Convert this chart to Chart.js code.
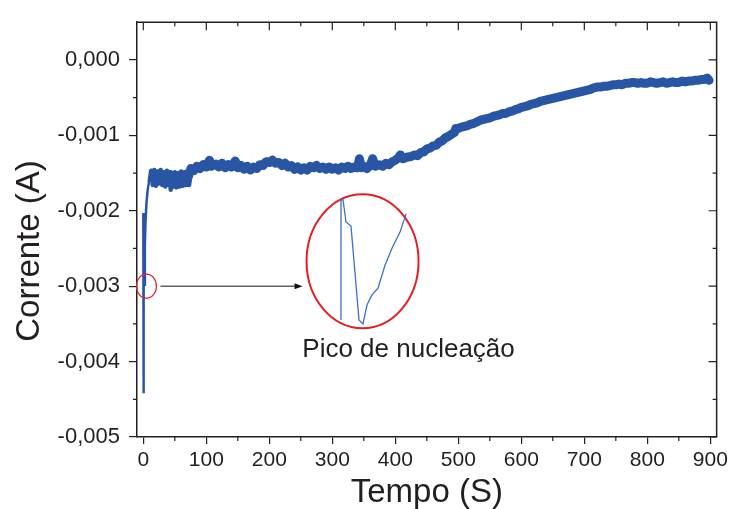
<!DOCTYPE html>
<html>
<head>
<meta charset="utf-8">
<script src="https://cdn.jsdelivr.net/npm/chart.js@4.4.1/dist/chart.umd.min.js"></script>
<style>
  html, body { margin: 0; padding: 0; background: #fff; }
  canvas { display: block; }
  #wrap { position: relative; width: 732px; height: 509px; }
  #inset { position: absolute; left: 335px; top: 195px; width: 75px; height: 135px; }
</style>
</head>
<body>
<div id="wrap">
  <canvas id="mainChart" width="732" height="509"></canvas>
  <div id="inset"><canvas id="insetChart" width="75" height="135"></canvas></div>
</div>
<script>
// Initial transient (nucleation spike), time in s, current in mA
const transientTime = [0, 0.3, 0.8, 1.5, 2.5, 3.5, 5, 7, 9, 10];
const transientCurrent = [-2.03, -4.42, -2.05, -2.98, -2.45, -2.15, -1.9, -1.72, -1.62, -1.6];

// Noisy early plateau, time in s, current in mA
const plateauTime = [
  10, 12.5, 15, 17.5, 20, 22.5, 25, 27.5, 30, 32.5, 35, 37.5, 40, 42.5, 43.5, 45, 47.5, 50, 52.5, 55,
  57.5, 60, 62.5, 65, 67.5, 70, 72.5, 74.5, 75.5
];
const plateauCurrent = [
  -1.62, -1.47, -1.66, -1.46, -1.67, -1.48, -1.64, -1.46, -1.66, -1.49, -1.68, -1.47, -1.66, -1.49, -1.72, -1.50, -1.68, -1.49, -1.69, -1.50,
  -1.68, -1.48, -1.67, -1.49, -1.66, -1.47, -1.66, -1.55, -1.44
];

// Rest of the chronoamperometry curve, time in s, current in mA
const timeS = [
  75.5, 80, 85, 90, 95, 100, 105, 108, 115, 120, 125, 130, 135, 140, 146, 150, 155, 160, 165, 170, 175,
  180, 185, 190, 195, 200, 205, 210, 215, 220, 225, 230, 235, 240, 245, 250, 255, 260, 265, 270, 275,
  280, 285, 290, 295, 300, 305, 310, 315, 320, 325, 330, 335, 340, 343, 346, 350, 355, 360, 364, 368,
  375, 380, 385, 390, 395, 400, 405, 408, 412, 418, 425, 430, 435, 440, 445, 450, 455, 460, 465, 470,
  475, 480, 485, 490, 494, 496, 500, 505, 510, 515, 520, 525, 530, 535, 540, 545, 550, 555, 560, 565,
  570, 575, 580, 585, 590, 595, 600, 605, 610, 615, 620, 625, 630, 635, 640, 645, 650, 655, 660, 665,
  670, 675, 680, 685, 690, 695, 700, 705, 710, 715, 720, 725, 730, 735, 740, 745, 750, 755, 760, 765,
  770, 775, 780, 785, 790, 795, 800, 805, 810, 815, 820, 825, 830, 835, 840, 845, 850, 855, 860, 865,
  870, 875, 880, 885, 890, 895, 898
];
const currentMilliAmp = [
  -1.44, -1.47, -1.41, -1.44, -1.39, -1.42, -1.33, -1.41, -1.38, -1.42, -1.37, -1.43, -1.39, -1.42, -1.34, -1.43, -1.40, -1.45, -1.41, -1.46, -1.42,
  -1.44, -1.39, -1.40, -1.35, -1.36, -1.33, -1.37, -1.36, -1.40, -1.37, -1.42, -1.40, -1.45, -1.42, -1.46, -1.43, -1.46, -1.41, -1.43, -1.40,
  -1.44, -1.42, -1.45, -1.42, -1.45, -1.43, -1.46, -1.42, -1.44, -1.41, -1.44, -1.42, -1.43, -1.31, -1.43, -1.41, -1.44, -1.40, -1.31, -1.41,
  -1.39, -1.41, -1.37, -1.39, -1.35, -1.33, -1.30, -1.26, -1.31, -1.29, -1.28, -1.26, -1.27, -1.23, -1.22, -1.18, -1.17, -1.14, -1.13, -1.09,
  -1.07, -1.03, -1.01, -0.98, -0.96, -0.91, -0.91, -0.89, -0.88, -0.87, -0.85, -0.84, -0.82, -0.80, -0.79, -0.78, -0.77, -0.75, -0.74, -0.73,
  -0.71, -0.71, -0.69, -0.68, -0.66, -0.65, -0.63, -0.62, -0.61, -0.59, -0.58, -0.57, -0.55, -0.54, -0.53, -0.52, -0.51, -0.50, -0.49, -0.48,
  -0.47, -0.46, -0.45, -0.44, -0.43, -0.42, -0.41, -0.40, -0.39, -0.37, -0.36, -0.36, -0.35, -0.35, -0.34, -0.33, -0.33, -0.32, -0.33, -0.31,
  -0.31, -0.30, -0.30, -0.31, -0.30, -0.31, -0.31, -0.29, -0.30, -0.31, -0.30, -0.29, -0.31, -0.30, -0.29, -0.30, -0.30, -0.28, -0.29, -0.28,
  -0.28, -0.27, -0.27, -0.26, -0.26, -0.24, -0.27
];

// Zoomed view of the nucleation peak (inset), time in s, current in mA
const insetTime = [1.74, 1.74, 1.82, 1.94, 2.14, 2.46, 2.62, 2.78, 2.98, 3.22, 3.50, 3.78, 4.10, 4.34];
const insetCurrent = [-3.085, -2.907, -2.907, -2.940, -2.946, -3.085, -3.091, -3.063, -3.048, -3.038, -3.004, -2.979, -2.955, -2.928];

// Axis ticks
const xMajorTicks = [0, 100, 200, 300, 400, 500, 600, 700, 800, 900];
const xMinorTicks = [50, 150, 250, 350, 450, 550, 650, 750, 850];
const yMajorTicks = [-0.005, -0.004, -0.003, -0.002, -0.001, 0];
const yMinorTicks = [-0.0045, -0.0035, -0.0025, -0.0015, -0.0005];

// Annotation anchors (data units)
const markerTime = 5, markerCurrent = -0.003;
const lensTime = 348, lensCurrent = -0.00267;

const fontFamily = "'Liberation Sans', Arial, Helvetica, sans-serif";
const axisColor = '#231f20';
const lineBlue = '#2955a5';

const toPoints = (ts, vs) => ts.map((t, i) => ({ x: t, y: vs[i] / 1000 }));

// Frame, mirror ticks, annotations and axis titles
const framePlugin = {
  id: 'framePlugin',
  afterDraw(chart) {
    const { ctx, chartArea: a, scales: { x, y } } = chart;
    ctx.save();
    ctx.strokeStyle = axisColor;
    ctx.lineWidth = 1.5;
    ctx.beginPath();
    ctx.moveTo(a.left, a.top);
    ctx.lineTo(a.right, a.top);
    ctx.lineTo(a.right, a.bottom);
    ctx.stroke();

    ctx.lineWidth = 1.2;
    ctx.beginPath();
    xMajorTicks.forEach(v => {
      const px = x.getPixelForValue(v);
      ctx.moveTo(px, a.top); ctx.lineTo(px, a.top + 8);
    });
    xMinorTicks.forEach(v => {
      const px = x.getPixelForValue(v);
      ctx.moveTo(px, a.top); ctx.lineTo(px, a.top + 4);
      ctx.moveTo(px, a.bottom); ctx.lineTo(px, a.bottom + 4);
    });
    yMajorTicks.forEach(v => {
      const py = y.getPixelForValue(v);
      ctx.moveTo(a.right, py); ctx.lineTo(a.right - 8, py);
    });
    yMinorTicks.forEach(v => {
      const py = y.getPixelForValue(v);
      ctx.moveTo(a.right, py); ctx.lineTo(a.right - 4, py);
      ctx.moveTo(a.left, py); ctx.lineTo(a.left - 4, py);
    });
    ctx.stroke();

    // small red circle on the spike
    const cx = x.getPixelForValue(markerTime), cy = y.getPixelForValue(markerCurrent);
    ctx.strokeStyle = '#e31e24';
    ctx.lineWidth = 1.2;
    ctx.beginPath();
    ctx.ellipse(cx, cy, 10, 12, 0, 0, Math.PI * 2);
    ctx.stroke();

    // big red lens around the inset
    const ex = x.getPixelForValue(lensTime), ey = y.getPixelForValue(lensCurrent);
    ctx.lineWidth = 2;
    ctx.beginPath();
    ctx.ellipse(ex, ey, 56, 67, 0, 0, Math.PI * 2);
    ctx.stroke();

    // arrow
    const ax0 = cx + 14, ax1 = ex - 60;
    ctx.strokeStyle = '#111';
    ctx.fillStyle = '#111';
    ctx.lineWidth = 1;
    ctx.beginPath();
    ctx.moveTo(ax0, cy); ctx.lineTo(ax1 - 6, cy);
    ctx.stroke();
    ctx.beginPath();
    ctx.moveTo(ax1, cy); ctx.lineTo(ax1 - 8, cy - 3); ctx.lineTo(ax1 - 8, cy + 3);
    ctx.closePath();
    ctx.fill();

    // annotation label
    ctx.fillStyle = axisColor;
    ctx.font = '26px ' + fontFamily;
    ctx.textAlign = 'center';
    ctx.textBaseline = 'alphabetic';
    ctx.fillText('Pico de nucleação', ex + 46, ey + 96);

    // axis titles
    ctx.font = '33px ' + fontFamily;
    ctx.fillText('Tempo (S)', (a.left + a.right) / 2, 502);
    ctx.translate(39, 251);
    ctx.rotate(-Math.PI / 2);
    ctx.fillText('Corrente (A)', 0, 0);
    ctx.restore();
  }
};

new Chart(document.getElementById('mainChart'), {
  type: 'line',
  data: {
    datasets: [
      {
        label: 'transient',
        data: toPoints(transientTime, transientCurrent),
        borderColor: lineBlue,
        borderWidth: 2.5,
        pointRadius: 0,
        tension: 0
      },
      {
        label: 'plateau',
        data: toPoints(plateauTime, plateauCurrent),
        borderColor: lineBlue,
        borderWidth: 4.5,
        borderJoinStyle: 'round',
        pointRadius: 0,
        tension: 0
      },
      {
        label: 'Corrente',
        data: toPoints(timeS, currentMilliAmp),
        borderColor: lineBlue,
        borderWidth: 9,
        borderJoinStyle: 'round',
        borderCapStyle: 'round',
        pointRadius: 0,
        tension: 0
      }
    ]
  },
  options: {
    responsive: false,
    animation: false,
    events: [],
    layout: { padding: { top: 16, right: 14, left: 0, bottom: 0 } },
    plugins: { legend: { display: false }, tooltip: { enabled: false } },
    scales: {
      x: {
        type: 'linear',
        min: -10,
        max: 910,
        afterFit: s => { s.height = 72; },
        afterBuildTicks: s => { s.ticks = xMajorTicks.map(v => ({ value: v })); },
        ticks: {
          font: { family: fontFamily, size: 21 },
          color: axisColor,
          padding: 4,
          maxRotation: 0,
          callback: v => String(v)
        },
        grid: { drawOnChartArea: false, tickLength: 7, color: axisColor, lineWidth: 1.2 },
        border: { color: axisColor, width: 1.5 }
      },
      y: {
        type: 'linear',
        min: -0.005,
        max: 0.0005,
        afterFit: s => { s.width = 137; },
        afterBuildTicks: s => { s.ticks = yMajorTicks.map(v => ({ value: v })); },
        ticks: {
          font: { family: fontFamily, size: 22 },
          color: axisColor,
          padding: 9,
          callback: v => v.toFixed(3).replace('.', ',')
        },
        grid: { drawOnChartArea: false, tickLength: 8, color: axisColor, lineWidth: 1.2 },
        border: { color: axisColor, width: 1.5 }
      }
    }
  },
  plugins: [framePlugin]
});

new Chart(document.getElementById('insetChart'), {
  type: 'line',
  data: {
    datasets: [{
      label: 'zoom',
      data: insetTime.map((t, i) => ({ x: t, y: insetCurrent[i] })),
      borderColor: '#3f6fc6',
      borderWidth: 1.3,
      pointRadius: 0,
      tension: 0
    }]
  },
  options: {
    responsive: false,
    animation: false,
    events: [],
    layout: { padding: 0 },
    plugins: { legend: { display: false }, tooltip: { enabled: false } },
    scales: {
      x: { type: 'linear', display: false, min: 1.5, max: 4.5 },
      y: { type: 'linear', display: false, min: -3.1, max: -2.9 }
    }
  }
});
</script>
</body>
</html>
